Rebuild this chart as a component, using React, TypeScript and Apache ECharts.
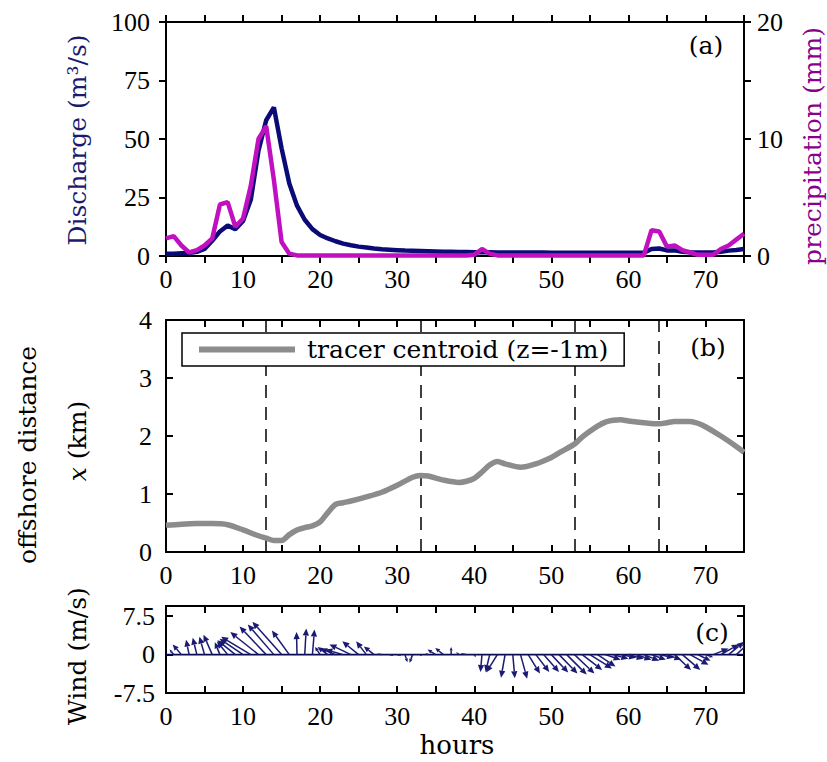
import React, { useEffect, useRef } from "react";
import * as echarts from "echarts";

// ---------- data ----------
const hours = Array.from({ length: 76 }, (_, i) => i);

const discharge = [
  1.0, 1.0, 1.2, 1.3, 1.8, 3.0, 6.5, 10.5, 13.0, 11.5,
  15.0, 24.0, 45.0, 58.0, 63.5, 46.0, 31.0, 21.5, 15.5, 11.5,
  9.0, 7.5, 6.3, 5.3, 4.6, 4.0, 3.6, 3.2, 2.9, 2.7,
  2.5, 2.3, 2.2, 2.1, 2.0, 1.9, 1.8, 1.8, 1.7, 1.7,
  1.6, 1.6, 1.6, 1.5, 1.5, 1.5, 1.5, 1.5, 1.5, 1.5,
  1.4, 1.4, 1.4, 1.4, 1.4, 1.4, 1.4, 1.4, 1.4, 1.4,
  1.4, 1.4, 1.4, 3.0, 3.2, 2.4, 2.4, 1.8, 1.6, 1.5,
  1.5, 1.5, 1.8, 2.3, 2.6, 3.0,
];

const precipitation = [
  1.5, 1.7, 0.9, 0.3, 0.5, 0.9, 1.5, 4.4, 4.6, 2.5,
  3.2, 6.0, 10.0, 11.1, 6.5, 1.2, 0.2, 0.05, 0.05, 0.05,
  0.05, 0.05, 0.05, 0.05, 0.05, 0.05, 0.05, 0.05, 0.05, 0.05,
  0.05, 0.05, 0.05, 0.05, 0.05, 0.05, 0.05, 0.05, 0.05, 0.05,
  0.1, 0.6, 0.2, 0.05, 0.05, 0.05, 0.05, 0.05, 0.05, 0.05,
  0.05, 0.05, 0.05, 0.05, 0.05, 0.05, 0.05, 0.05, 0.05, 0.05,
  0.05, 0.05, 0.05, 2.2, 2.1, 0.8, 0.9, 0.5, 0.3, 0.1,
  0.1, 0.1, 0.6, 0.9, 1.4, 1.9,
];

const tracerHours = [
  0, 2, 4, 6, 8, 10, 12, 13, 14, 15, 16, 17, 18, 19, 20, 21, 22, 23, 24, 26,
  28, 30, 32, 33, 34, 36, 38, 39, 40, 41, 42, 43, 44, 46, 48, 50, 51, 53, 54, 55,
  56, 57, 58, 59, 60, 62, 64, 65, 66, 68, 69, 70, 72, 74, 75,
];
const tracerX = [
  0.46, 0.48, 0.49, 0.49, 0.47, 0.38, 0.28, 0.24, 0.2, 0.2, 0.3, 0.38, 0.42, 0.45, 0.52, 0.68, 0.82, 0.85, 0.88, 0.95,
  1.03, 1.15, 1.29, 1.32, 1.31, 1.24, 1.2, 1.22, 1.27, 1.38, 1.5, 1.56, 1.52, 1.46, 1.52, 1.63, 1.71, 1.86, 1.98, 2.08,
  2.17, 2.24, 2.27, 2.28, 2.26, 2.23, 2.21, 2.23, 2.25, 2.25, 2.22, 2.16, 2.0, 1.82, 1.72,
];
const dashHours = [13, 33, 53, 64];

const windU = [
  -1.0, -0.8, -1.7, -0.6, -0.8, -1.0, -1.7, -1.0, -2.1, -3.5,
  -4.6, -5.8, -5.5, -5.2, -5.1, -5.7, -3.4, -0.1, 0.3, 0.4,
  -1.0, -2.0, -3.0, -3.5, -4.2, -3.2, -2.0, -2.0, -1.0, 0.8,
  0.8, 0.5, -0.6, 0.3, -0.5, -1.6, -1.6, 0.0, -0.5, -1.1,
  0.3, -0.3, -0.8, -2.2, -0.8, 0.4, 1.3, 2.3, 2.6, 3.0,
  3.3, 3.6, 3.9, 3.9, 3.9, 4.3, 3.5, 3.0, 3.0, 3.0,
  3.0, 3.0, 3.0, 2.8, 2.8, 2.8, 3.2, 3.5, 3.6, 2.5,
  1.5, 3.0, 3.5, 3.0, 2.5, 2.0,
];
const windV = [
  1.2, 1.0, 2.0, 2.9, 3.3, 3.5, 3.9, 2.4, 2.6, 2.8,
  3.1, 3.5, 4.4, 5.5, 5.9, 6.4, 4.7, 4.4, 5.1, 4.9,
  1.5, 1.5, 1.2, 1.0, 2.0, 2.6, 2.6, 1.6, 0.1, -0.2,
  -0.2, -1.5, -1.6, -0.3, 0.3, 1.0, 1.3, 1.5, 0.5, 0.2,
  -0.5, -3.4, -3.4, -3.5, -4.5, -4.6, -4.7, -3.7, -3.4, -3.4,
  -3.5, -3.7, -3.9, -3.7, -3.0, -2.7, -2.3, -1.0, -0.8, -0.6,
  -0.8, -1.0, -1.2, -1.0, -0.6, -1.0, -3.0, -3.0, -2.0, -1.2,
  -0.5, 1.2, 2.0, 2.5, 2.3, 2.0,
];

const TITLE = '"DejaVu Serif", serif';
const NUM = '"Liberation Serif", serif';

function xAx(gridIndex: number, position: string, inside: boolean, showLabel: boolean, margin: number) {
  return {
    type: "value",
    gridIndex,
    position,
    min: 0,
    max: 75,
    interval: 5,
    axisLine: { show: true, onZero: false, lineStyle: { color: "#000", width: 2 } },
    axisTick: { show: true, inside, length: 7, lineStyle: { color: "#000", width: 2 } },
    axisLabel: {
      show: showLabel,
      margin,
      color: "#000",
      fontFamily: NUM,
      fontSize: 26,
      formatter: (v: number) => (v % 10 === 0 ? String(v) : ""),
    },
    splitLine: { show: false },
  };
}

function yAx(gridIndex: number, position: string, inside: boolean, min: number, max: number, interval: number, showLabel: boolean, fmt: (v: number) => string, margin: number) {
  return {
    type: "value",
    gridIndex,
    position,
    min,
    max,
    interval,
    axisLine: { show: true, onZero: false, lineStyle: { color: "#000", width: 2 } },
    axisTick: { show: true, inside, length: 7, lineStyle: { color: "#000", width: 2 } },
    axisLabel: { show: showLabel, margin, color: "#000", fontFamily: NUM, fontSize: 26, formatter: fmt },
    splitLine: { show: false },
  };
}

function vtext(x: number, y: number, text: string, color: string, size: number, rotate: boolean, extra: any = {}) {
  return {
    type: "text",
    x,
    y,
    z: 50,
    rotation: rotate ? Math.PI / 2 : 0,
    style: {
      text,
      fill: color,
      fontFamily: TITLE,
      fontSize: size,
      align: "center",
      verticalAlign: "middle",
      ...extra,
    },
  };
}

export default function App() {
  const ref = useRef<HTMLDivElement>(null);

  useEffect(() => {
    if (!ref.current) return;
    const chart = echarts.init(ref.current, undefined, { renderer: "svg" });

    const windData = hours.map((h, i) => [h, windU[i], windV[i]]);

    const option: any = {
      animation: false,
      backgroundColor: "#fff",
      grid: [
        { left: 166, top: 22, width: 578, height: 234 },
        { left: 166, top: 320, width: 578, height: 232 },
        { left: 166, top: 606, width: 578, height: 87 },
      ],
      xAxis: [
        xAx(0, "bottom", false, true, 10),
        xAx(0, "top", false, false, 8),
        xAx(1, "bottom", true, true, 10),
        xAx(1, "top", true, false, 8),
        xAx(2, "bottom", true, true, 10),
        xAx(2, "top", true, false, 8),
      ],
      yAxis: [
        yAx(0, "left", false, 0, 100, 25, true, (v) => String(v), 16),
        yAx(0, "right", false, 0, 20, 5, true, (v) => (v % 10 === 0 ? String(v) : ""), 13),
        yAx(1, "left", true, 0, 4, 1, true, (v) => String(v), 14),
        yAx(1, "right", true, 0, 4, 1, false, (v) => String(v), 8),
        yAx(2, "left", true, -7.5, 9.5, 7.5, true, (v) => (v === -7.5 || v === 0 || v === 7.5 ? String(v) : ""), 11),
        yAx(2, "right", true, -7.5, 9.5, 7.5, false, (v) => String(v), 8),
      ],
      legend: {
        data: ["tracer centroid (z=-1m)"],
        left: 182,
        top: 333,
        z: 100,
        zlevel: 0,
        selectedMode: false,
        backgroundColor: "#fff",
        borderColor: "#000",
        borderWidth: 1.5,
        borderRadius: 0,
        padding: [4, 16, 4, 17],
        icon: "rect",
        itemWidth: 96,
        itemHeight: 6,
        textStyle: { fontFamily: TITLE, fontSize: 25, color: "#000", padding: [0, 0, 0, 7] },
      },
      series: [
        {
          name: "Discharge",
          type: "line",
          xAxisIndex: 0,
          yAxisIndex: 0,
          data: hours.map((h, i) => [h, discharge[i]]),
          showSymbol: false,
          lineStyle: { color: "#0b0b78", width: 4.5 },
          itemStyle: { color: "#0b0b78" },
          z: 3,
        },
        {
          name: "precipitation",
          type: "line",
          xAxisIndex: 0,
          yAxisIndex: 1,
          data: hours.map((h, i) => [h, precipitation[i]]),
          showSymbol: false,
          lineStyle: { color: "#c010c0", width: 4.5 },
          itemStyle: { color: "#c010c0" },
          z: 4,
        },
        {
          name: "tracer centroid (z=-1m)",
          type: "line",
          xAxisIndex: 2,
          yAxisIndex: 2,
          z: 2,
          data: tracerHours.map((h, i) => [h, tracerX[i]]),
          showSymbol: false,
          smooth: 0.3,
          lineStyle: { color: "#8c8c8c", width: 5.5 },
          itemStyle: { color: "#8c8c8c" },
          markLine: {
            silent: true,
            z: 1,
            symbol: ["none", "none"],
            label: { show: false },
            lineStyle: { color: "#000", type: [13, 9], width: 1.5 },
            data: dashHours.map((h) => ({ xAxis: h })),
          },
        },
        {
          name: "zero",
          type: "line",
          xAxisIndex: 4,
          yAxisIndex: 4,
          data: [[0, 0], [75, 0]],
          showSymbol: false,
          lineStyle: { color: "#0a0a50", width: 1.6 },
          z: 3,
        },
        {
          name: "wind",
          type: "custom",
          xAxisIndex: 4,
          yAxisIndex: 4,
          clip: true,
          encode: { x: 0, y: 2 },
          data: windData,
          z: 4,
          renderItem: (params: any, api: any) => {
            const h = api.value(0);
            const u = api.value(1);
            const v = api.value(2);
            const p0 = api.coord([h, 0]);
            const py = api.coord([h, v])[1];
            const unit = api.size([0, 1])[1];
            const p1 = [p0[0] + u * unit, py];
            const dx = p1[0] - p0[0];
            const dy = p1[1] - p0[1];
            const len = Math.hypot(dx, dy) || 1;
            const ux = dx / len;
            const uy = dy / len;
            const hl = Math.min(7, len * 0.45);
            const hw = hl * 0.45;
            const bx = p1[0] - ux * hl;
            const by = p1[1] - uy * hl;
            const col = "#1a1a72";
            return {
              type: "group",
              children: [
                {
                  type: "line",
                  shape: { x1: p0[0], y1: p0[1], x2: bx, y2: by },
                  style: { stroke: col, lineWidth: 1.5 },
                },
                {
                  type: "polygon",
                  shape: {
                    points: [
                      [p1[0], p1[1]],
                      [bx - uy * hw, by + ux * hw],
                      [bx + uy * hw, by - ux * hw],
                    ],
                  },
                  style: { fill: col },
                },
              ],
            };
          },
        },
      ],
      graphic: [
        vtext(706, 45, "(a)", "#000", 25, false),
        vtext(708, 347, "(b)", "#000", 25, false),
        vtext(712, 632, "(c)", "#000", 25, false),
        vtext(77, 140, "Discharge (m³/s)", "#1b1b6e", 25, true),
        vtext(812, 146, "precipitation (mm)", "#8b008b", 25, true),
        vtext(27, 455, "offshore distance", "#000", 25, true),
        vtext(77, 441, "{i|x} (km)", "#000", 25, true, {
          rich: { i: { fontStyle: "italic", fontFamily: TITLE, fontSize: 25, fill: "#000" } },
        }),
        vtext(77, 656, "Wind (m/s)", "#000", 25, true),
        vtext(457, 745, "hours", "#000", 26, false),
      ],
    };

    chart.setOption(option);
    return () => chart.dispose();
  }, []);

  return (
    <div
      ref={ref}
      style={{ position: "absolute", left: 0, top: 0, width: 827, height: 762 }}
    />
  );
}
